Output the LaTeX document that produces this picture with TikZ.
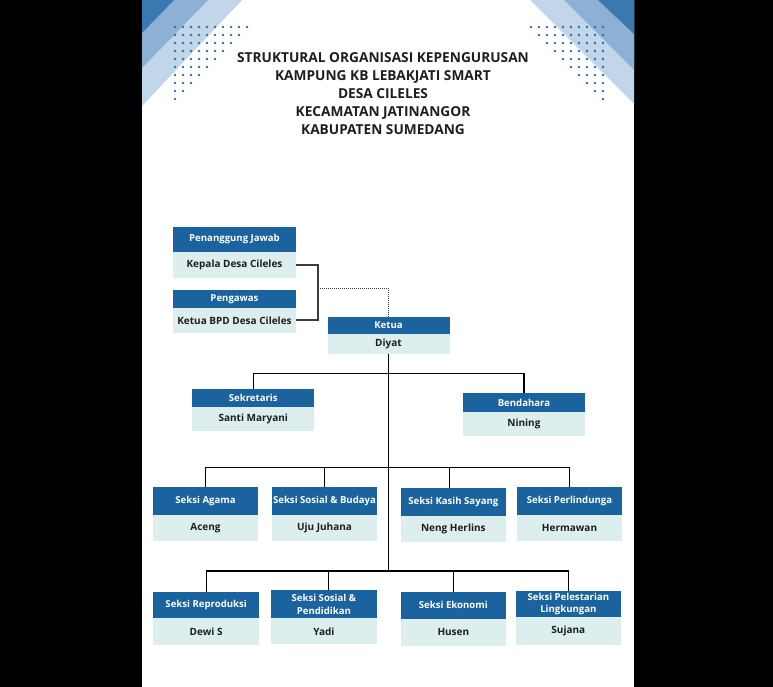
\documentclass[tikz,border=0pt]{standalone}
\usepackage{fontspec}
\setmainfont{Open Sans}
\usetikzlibrary{calc}
\definecolor{hdrblue}{HTML}{1B639E}
\definecolor{bodyteal}{HTML}{DCEEEE}
\definecolor{banddark}{HTML}{3A78B0}
\definecolor{bandmid}{HTML}{8DB1D5}
\definecolor{bandlight}{HTML}{C2D6EA}
\definecolor{dotblue}{HTML}{2F6EAA}
\definecolor{titlegray}{HTML}{1E1E1E}
\definecolor{linegray}{HTML}{3C3C3C}
\tikzset{
  hdr/.style={fill=hdrblue, text=white, inner sep=0pt, outer sep=0pt, align=center,
    font=\fontsize{9.6}{11.5}\selectfont\bfseries, anchor=north west},
  bdy/.style={fill=bodyteal, text=titlegray, inner sep=0pt, outer sep=0pt, align=center,
    font=\fontsize{10}{12}\selectfont\bfseries, anchor=north},
  tree/.style={draw=black, line width=1.1pt},
  joinline/.style={draw=linegray, line width=1.8pt},
  dotline/.style={draw=linegray, line width=1.2pt, dash pattern=on 1pt off 1pt},
}
\begin{document}
\begin{tikzpicture}[x=1pt,y=-1pt]
\useasboundingbox (0,0) rectangle (773,687);
\fill[black] (0,0) rectangle (773,687);
\fill[white] (142,0) rectangle (634,687);
% corner bands
\fill[bandlight] (142,0) -- (242,0) -- (142,106) -- cycle;
\fill[bandmid] (142,0) -- (208,0) -- (142,68) -- cycle;
\fill[banddark] (142,0) -- (174,0) -- (142,33) -- cycle;
\fill[bandlight] (634,0) -- (530,0) -- (634,104) -- cycle;
\fill[bandmid] (634,0) -- (564,0) -- (634,70) -- cycle;
\fill[banddark] (634,0) -- (598,0) -- (634,34) -- cycle;
% dots
\foreach \j in {0,...,9}{
  \pgfmathtruncatemacro{\n}{9-\j}
  \foreach \i in {0,...,\n}{
    \fill[dotblue] (175+8*\i, 27+8*\j) circle (1.4);
    \fill[dotblue] (603-8*\i, 27+8*\j) circle (1.4);
  }
}
% title
\node[font=\fontsize{13.7}{18}\selectfont\bfseries, text=titlegray, align=center] (title) at (383,94)
  {STRUKTURAL ORGANISASI KEPENGURUSAN\\KAMPUNG KB LEBAKJATI SMART\\DESA CILELES\\KECAMATAN JATINANGOR\\KABUPATEN SUMEDANG};
% boxes
\node[hdr, minimum width=123, minimum height=25] (pj-h) at (173,227) {Penanggung Jawab};
\node[bdy, minimum width=123, minimum height=26] (pj) at (pj-h.south) {Kepala Desa Cileles};
\node[hdr, minimum width=123, minimum height=18] (pw-h) at (173,290) {Pengawas};
\node[bdy, minimum width=123, minimum height=24.5] (pw) at (pw-h.south) {Ketua BPD Desa Cileles};
\node[hdr, minimum width=122, minimum height=17.5] (kt-h) at (327.5,316.5) {Ketua};
\node[bdy, minimum width=122, minimum height=19.5] (kt) at (kt-h.south) {Diyat};
\node[hdr, minimum width=122, minimum height=17.5] (sk-h) at (192.3,389.3) {Sekretaris};
\node[bdy, minimum width=122, minimum height=24] (sk) at (sk-h.south) {Santi Maryani};
\node[hdr, minimum width=122.5, minimum height=18.5] (bd-h) at (462.7,393.3) {Bendahara};
\node[bdy, minimum width=122.5, minimum height=24.5] (bd) at (bd-h.south) {Nining};
% row 3
\node[hdr, minimum width=105.6, minimum height=27.7] (ag-h) at (152.7,487.3) {Seksi Agama};
\node[bdy, minimum width=105.6, minimum height=25.7] (ag) at (ag-h.south) {Aceng};
\node[hdr, minimum width=105.6, minimum height=27.7] (sb-h) at (271.7,487.3) {Seksi Sosial \& Budaya};
\node[bdy, minimum width=105.6, minimum height=25.7] (sb) at (sb-h.south) {Uju Juhana};
\node[hdr, minimum width=105.3, minimum height=27.7] (ks-h) at (400.7,488.3) {Seksi Kasih Sayang};
\node[bdy, minimum width=105.3, minimum height=25.7] (ks) at (ks-h.south) {Neng Herlins};
\node[hdr, minimum width=105.6, minimum height=27.7] (pl-h) at (516.7,487.3) {Seksi Perlindunga};
\node[bdy, minimum width=105.6, minimum height=25.7] (pl) at (pl-h.south) {Hermawan};
% row 4
\node[hdr, minimum width=105.7, minimum height=26] (rp-h) at (153.3,591.7) {Seksi Reproduksi};
\node[bdy, minimum width=105.7, minimum height=27.3] (rp) at (rp-h.south) {Dewi S};
\node[hdr, minimum width=105.7, minimum height=28.3] (sp-h) at (271,590) {Seksi Sosial \&\\[1pt]Pendidikan};
\node[bdy, minimum width=105.7, minimum height=26] (sp) at (sp-h.south) {Yadi};
\node[hdr, minimum width=105.3, minimum height=27.3] (ek-h) at (400.7,591.7) {Seksi Ekonomi};
\node[bdy, minimum width=105.3, minimum height=26.7] (ek) at (ek-h.south) {Husen};
\node[hdr, minimum width=105.3, minimum height=26.3] (ls-h) at (515.7,591) {Seksi Pelestarian\\[1pt]Lingkungan};
\node[bdy, minimum width=105.3, minimum height=27.7] (ls) at (ls-h.south) {Sujana};
% connectors top
\coordinate (jn) at (318.3,288.3);
\draw[joinline] (pj.east) -| (jn) |- (pw.east);
\draw[dotline] (jn) -| (kt-h.north);
% trunk
\coordinate (tend) at (389.3,571);
\draw[tree] (kt.south) -- (kt.south |- tend);
\draw[tree] (sk-h.north) -- ++(0,-16) -| (bd-h.north);
\draw[tree] (ag-h.north) -- ++(0,-20) -| (pl-h.north);
\draw[tree] (sb-h.north) -- ++(0,-20);
\draw[tree] ([xshift=-4pt]ks-h.north) -- ++(0,-21);
\draw[tree] (rp-h.north) -- ++(0,-20.7) -| (ls-h.north);
\draw[tree] ([xshift=4.5pt]sp-h.north) -- ++(0,-19);
\draw[tree] (ek-h.north) -- ++(0,-20.7);
\end{tikzpicture}
\end{document}
